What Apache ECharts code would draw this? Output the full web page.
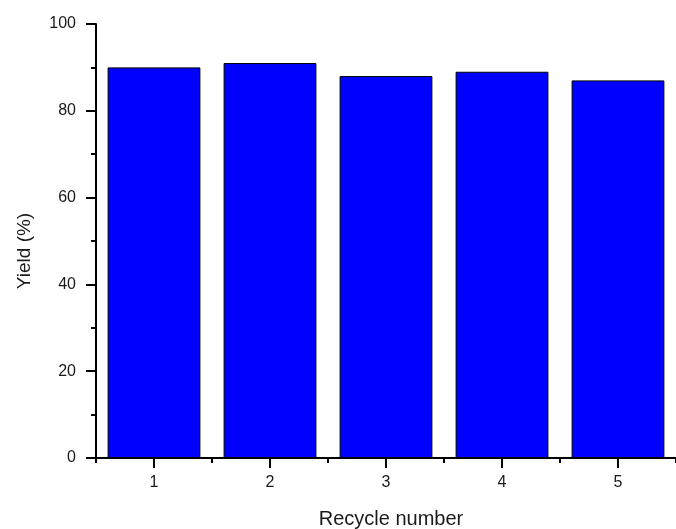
<!DOCTYPE html>
<html>
<head>
<meta charset="utf-8">
<script src="https://cdn.jsdelivr.net/npm/echarts@6/dist/echarts.min.js"></script>
<style>html,body{margin:0;padding:0;background:#fff}#c{width:676px;height:529px}</style>
</head>
<body>
<div id="c"></div>
<script>
const categories = ['1', '2', '3', '4', '5'];
const yieldValues = [90, 91, 88, 89, 87];
const yTicks = [0, 20, 40, 60, 80, 100];
const xTitle = 'Recycle number';
const yTitle = 'Yield (%)';

const chart = echarts.init(document.getElementById('c'), null, {renderer: 'canvas'});
const font = 'Liberation Sans, Arial, sans-serif';
const txt = '#1a1a1a';
chart.setOption({
  backgroundColor: '#ffffff',
  animation: false,
  grid: {left: 96, top: 24, width: 590, height: 434},
  xAxis: [{
    type: 'category',
    data: categories,
    position: 'bottom',
    axisLine: {show: true, lineStyle: {color: '#000', width: 2}},
    axisTick: {show: true, alignWithLabel: true, interval: 0, length: 10, lineStyle: {color: '#000', width: 2}},
    axisLabel: {show: true, margin: 17, color: txt, fontSize: 16, fontFamily: font},
    splitLine: {show: false}
  }, {
    type: 'value',
    min: 0,
    max: categories.length,
    interval: 1,
    position: 'bottom',
    offset: 0,
    axisLine: {show: false},
    axisTick: {show: true, length: 5, lineStyle: {color: '#000', width: 2}},
    axisLabel: {show: false},
    splitLine: {show: false}
  }],
  yAxis: {
    type: 'value',
    min: yTicks[0],
    max: yTicks[yTicks.length - 1],
    interval: 20,
    axisLine: {show: true, lineStyle: {color: '#000', width: 2}},
    axisTick: {show: true, length: 10, lineStyle: {color: '#000', width: 2}},
    minorTick: {show: true, splitNumber: 2, length: 5, lineStyle: {color: '#000', width: 2}},
    axisLabel: {margin: 20, color: txt, fontSize: 16, fontFamily: font},
    splitLine: {show: false}
  },
  graphic: [{
    type: 'text',
    x: 391,
    y: 519,
    style: {text: xTitle, fill: txt, font: '20px ' + font, textAlign: 'center', textVerticalAlign: 'middle'}
  }, {
    type: 'text',
    x: 25,
    y: 251,
    rotation: Math.PI / 2,
    style: {text: yTitle, fill: txt, font: '19px ' + font, textAlign: 'center', textVerticalAlign: 'middle'}
  }],
  series: [{
    type: 'bar',
    xAxisIndex: 0,
    data: yieldValues,
    barCategoryGap: '20%',
    itemStyle: {color: '#0000FF', borderColor: '#000', borderWidth: 1}
  }]
});
</script>
</body>
</html>
